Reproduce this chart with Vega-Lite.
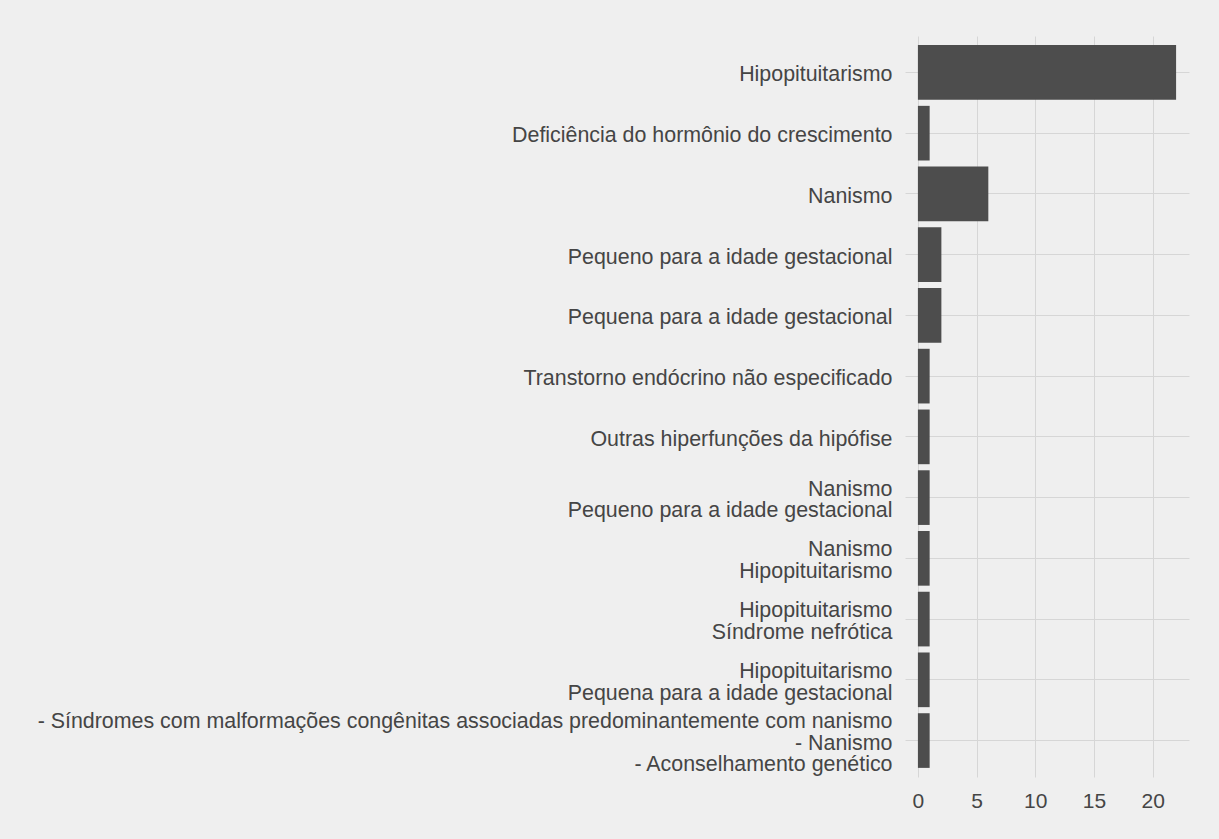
{
  "$schema": "https://vega.github.io/schema/vega-lite/v6.json",
  "autosize": "none",
  "width": 284,
  "height": 741,
  "padding": {"left": 905, "top": 36, "right": 30, "bottom": 62},
  "background": "#efefef",
  "config": {"view": {"stroke": null}, "font": "Liberation Sans"},
  "data": {"values": [
    {"label": "Hipopituitarismo", "n": 22},
    {"label": "Deficiência do hormônio do crescimento", "n": 1},
    {"label": "Nanismo", "n": 6},
    {"label": "Pequeno para a idade gestacional", "n": 2},
    {"label": "Pequena para a idade gestacional", "n": 2},
    {"label": "Transtorno endócrino não especificado", "n": 1},
    {"label": "Outras hiperfunções da hipófise", "n": 1},
    {"label": "Nanismo|Pequeno para a idade gestacional", "n": 1},
    {"label": "Nanismo|Hipopituitarismo", "n": 1},
    {"label": "Hipopituitarismo|Síndrome nefrótica", "n": 1},
    {"label": "Hipopituitarismo|Pequena para a idade gestacional", "n": 1},
    {"label": "- Síndromes com malformações congênitas associadas predominantemente com nanismo|- Nanismo|- Aconselhamento genético", "n": 1}
  ]},
  "mark": {"type": "bar", "color": "#4d4d4d"},
  "encoding": {
    "y": {
      "field": "label", "type": "nominal", "sort": null,
      "scale": {"paddingInner": 0.1, "paddingOuter": 0.15},
      "axis": {
        "title": null, "domain": false, "ticks": false, "grid": true,
        "bandPosition": 0.5, "gridColor": "#d6d6d6", "gridWidth": 1,
        "labelPadding": 13, "labelFontSize": 21.4, "labelColor": "#454545",
        "labelLimit": 0, "labelLineHeight": 21.7,
        "labelOffset": {"expr": "3 - 10.85 * (length(split(datum.value, '|')) - 1)"},
        "labelExpr": "split(datum.label, '|')"
      }
    },
    "x": {
      "field": "n", "type": "quantitative",
      "scale": {"domain": [-1.1, 23.1], "nice": false, "zero": false},
      "axis": {
        "title": null, "domain": false, "ticks": false, "grid": true,
        "values": [0, 5, 10, 15, 20], "gridColor": "#d6d6d6",
        "labelPadding": 13, "labelFontSize": 21, "labelColor": "#454545"
      }
    }
  }
}
